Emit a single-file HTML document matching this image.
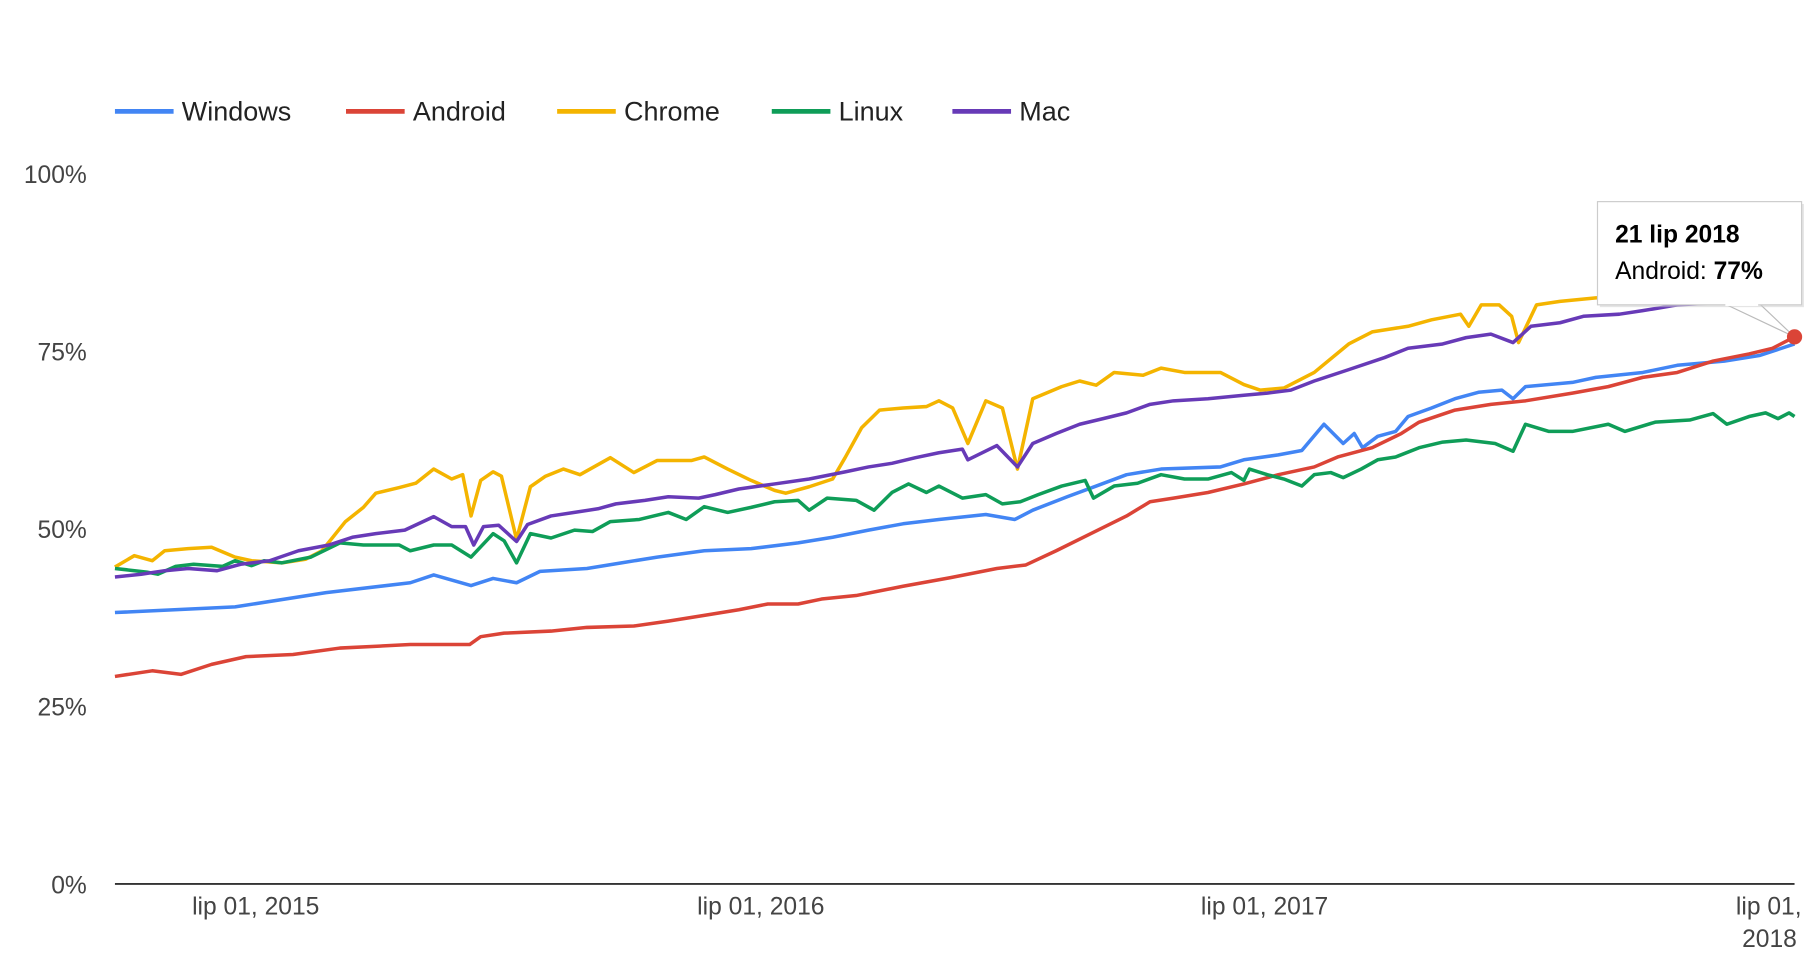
<!DOCTYPE html>
<html><head><meta charset="utf-8"><style>
html,body{margin:0;padding:0;background:#fff;}
svg{display:block;font-family:"Liberation Sans",sans-serif;}
</style></head><body>
<svg id="chart" width="1818" height="966" viewBox="0 0 1550 824" preserveAspectRatio="none" xmlns="http://www.w3.org/2000/svg">
<g id="legend"></g>
<g id="yaxis"></g>
<g id="xaxis"></g>
<g id="series"></g>
<g id="tip"></g>
</svg>
<script>
// days since 2015-03-21
const winDays=[0,87,153,214,231,258,274,291,308,342,367,393,427,461,495,520,546,571,597,631,652,665,690,711,733,758,801,818,843,860,876,890,898,904,915,928,937,954,971,988,1005,1013,1022,1056,1073,1107,1132,1166,1192,1217];
const winVals=[38.2,39,41,42.4,43.5,42,43,42.4,44,44.4,45.2,46,46.9,47.2,48,48.8,49.8,50.7,51.3,52,51.3,52.6,54.5,56,57.6,58.4,58.7,59.7,60.4,61,64.7,62,63.4,61.4,63,63.7,65.8,67,68.3,69.2,69.5,68.3,70,70.6,71.3,72,73,73.6,74.4,76];
const andDays=[0,27,48,70,95,129,163,214,257,265,282,316,342,376,401,427,452,473,495,512,537,571,605,639,660,682,707,733,750,767,792,818,843,869,886,911,932,945,971,997,1022,1056,1082,1107,1132,1158,1184,1201,1217];
const andVals=[29.2,30,29.5,30.9,32,32.3,33.2,33.7,33.7,34.8,35.3,35.6,36.1,36.3,37,37.8,38.6,39.4,39.4,40.1,40.6,41.9,43.1,44.4,44.9,46.9,49.3,51.8,53.8,54.3,55.1,56.3,57.6,58.7,60.1,61.4,63.4,65,66.7,67.5,68,69.1,70,71.3,72,73.6,74.6,75.4,77];
const chrDays=[0,14,27,36,53,70,87,99,121,138,150,167,180,189,206,218,231,244,252,258,265,274,280,291,301,312,325,337,359,376,393,418,427,444,461,478,486,503,520,529,541,554,571,588,597,607,618,631,643,654,665,686,699,711,724,745,758,775,801,818,830,847,869,894,911,937,954,975,981,990,1003,1012,1017,1030,1047,1073,1107,1149,1184,1217];
const chrVals=[44.6,46.2,45.5,46.9,47.2,47.4,46,45.5,45.2,45.7,46.9,51,53,55,55.8,56.4,58.4,57,57.6,51.8,56.8,58,57.4,48.5,55.9,57.4,58.4,57.6,60,57.9,59.6,59.6,60.1,58.4,56.8,55.4,55,55.9,57,60,64.2,66.7,67,67.2,68,67,62,68,67,58.4,68.3,70,70.8,70.2,72,71.6,72.6,72,72,70.3,69.5,69.8,72,76,77.7,78.5,79.4,80.2,78.5,81.5,81.5,79.9,76.2,81.5,82,82.5,82.8,83,83.3,83.5];
const linDays=[0,23,31,44,57,78,87,99,108,121,142,163,180,206,214,231,244,258,274,282,291,301,316,333,346,359,380,401,414,427,444,461,478,495,503,516,537,550,563,575,588,597,614,631,643,656,669,686,703,709,724,741,758,775,792,809,818,822,835,847,860,869,881,890,903,915,928,945,962,979,1000,1013,1022,1039,1056,1082,1094,1116,1141,1158,1168,1184,1196,1205,1213,1217];
const linVals=[44.4,43.9,43.6,44.7,45,44.7,45.5,44.8,45.5,45.2,46,48,47.7,47.7,46.9,47.7,47.7,46,49.3,48.3,45.2,49.3,48.7,49.8,49.6,51,51.3,52.3,51.3,53.1,52.3,53,53.8,54,52.6,54.3,54,52.6,55.1,56.3,55.1,56,54.3,54.8,53.5,53.8,54.8,56,56.8,54.3,56,56.4,57.6,57,57,57.9,56.8,58.4,57.6,57,56,57.6,57.9,57.2,58.4,59.7,60.1,61.4,62.2,62.5,62,60.9,64.7,63.7,63.7,64.7,63.7,65,65.3,66.2,64.7,65.8,66.3,65.5,66.3,65.8];
const macDays=[0,19,36,53,74,91,112,133,155,172,189,210,231,244,254,260,267,278,291,299,316,333,350,363,384,401,423,435,452,478,503,529,546,563,580,597,614,618,639,654,665,682,699,716,733,750,767,792,818,835,852,869,894,920,937,962,979,997,1013,1026,1047,1064,1090,1107,1132,1158,1184,1217];
const macVals=[43.2,43.6,44.1,44.4,44.1,45,45.5,46.9,47.7,48.8,49.3,49.8,51.7,50.3,50.3,47.7,50.3,50.5,48.2,50.6,51.8,52.3,52.8,53.5,54,54.5,54.3,54.8,55.6,56.3,57,58,58.7,59.2,60,60.7,61.2,59.7,61.7,58.7,62,63.4,64.7,65.5,66.3,67.5,68,68.3,68.8,69.1,69.5,70.8,72.4,74.1,75.4,76,76.9,77.4,76.2,78.5,79,79.9,80.2,80.7,81.5,81.8,82,82.5];
const yTicks=[0,25,50,75,100];
const yTickLabels=["0%","25%","50%","75%","100%"];
const xTickDays=[102,468,833,1198];
const xTickLabels=["lip 01, 2015","lip 01, 2016","lip 01, 2017","lip 01, 2018"];
const seriesNames=["Windows","Android","Chrome","Linux","Mac"];
const tipDate="21 lip 2018", tipSeries="Android", tipValue=77, tipDay=1217;

const NS="http://www.w3.org/2000/svg";
const X0=98,X1=1530,Y0=754,Y100=148,DMAX=1217;
const xs=d=>X0+d/DMAX*(X1-X0);
const ys=v=>Y0-v/100*(Y0-Y100);
function mk(tag,attrs,parent){const e=document.createElementNS(NS,tag);for(const k in attrs)e.setAttribute(k,attrs[k]);parent.appendChild(e);return e;}
const colors=["#4285F4","#DB4437","#F4B400","#0F9D58","#673AB7"];
const allDays=[winDays,andDays,chrDays,linDays,macDays];
const allVals=[winVals,andVals,chrVals,linVals,macVals];

// legend
const lg=document.getElementById('legend');
const legX=[98,295,475,658,812];
seriesNames.forEach((n,i)=>{
  const g=mk('g',{},lg);
  
  
  mk('line',{x1:legX[i],x2:legX[i]+50,y1:95,y2:95,stroke:colors[i],'stroke-width':4},g);
  const t=mk('text',{x:legX[i]+57,y:103,'font-size':23,fill:'#222'},g);t.textContent=n;
});
// y axis
const ya=document.getElementById('yaxis');
yTicks.forEach((v,i)=>{
  const t=mk('text',{x:74,y:ys(v)+8,'text-anchor':'end','font-size':21,fill:'#444'},ya);
  
  
  t.textContent=yTickLabels[i];
});
// x axis
const xa=document.getElementById('xaxis');
const base=mk('line',{x1:X0,x2:X1,y1:Y0,y2:Y0,stroke:'#333','stroke-width':1.5},xa);


xTickDays.forEach((d,i)=>{
  const x=xs(d);
  const t=mk('text',{x:x,y:780,'text-anchor':'middle','font-size':21,fill:'#444'},xa);
  
  
  if(x+65>1550){
    const p=xTickLabels[i].split(' ');
    t.setAttribute('text-anchor','end');t.setAttribute('x',1536);
    const s1=mk('tspan',{x:1536,y:780},t);s1.textContent=p[0]+' '+p[1];
    const s2=mk('tspan',{x:1532,y:808},t);s2.textContent=p[2];
  } else t.textContent=xTickLabels[i];
});
// series
const sg=document.getElementById('series');
allDays.forEach((days,i)=>{
  const pts=days.map((d,j)=>xs(d).toFixed(1)+','+ys(allVals[i][j]).toFixed(1)).join(' ');
  const pl=mk('polyline',{points:pts,fill:'none',stroke:colors[i],'stroke-width':3,'stroke-linejoin':'round'},sg);
  
  
});
// tooltip
const tg=document.getElementById('tip');
const px=xs(tipDay),py=ys(tipValue);
mk('polygon',{points:`1470,259 1500,259 ${px},${py}`,fill:'#fff',stroke:'#bbb','stroke-width':1},tg);
mk('rect',{x:1364,y:174,width:174,height:88,fill:'#ccc',opacity:0.5},tg);
const box=mk('rect',{x:1362,y:172,width:174,height:88,fill:'#fff',stroke:'#ccc','stroke-width':1},tg);


mk('rect',{x:1471,y:255,width:28,height:6,fill:'#fff'},tg);
const t1=mk('text',{x:1377,y:207,'font-size':21,'font-weight':'bold',fill:'#000'},tg);t1.textContent=tipDate;
const t2=mk('text',{x:1377,y:238,'font-size':21,fill:'#000'},tg);
const a=mk('tspan',{},t2);a.textContent=tipSeries+': ';
const b=mk('tspan',{'font-weight':'bold'},t2);b.textContent=tipValue+'%';
const dot=mk('circle',{cx:px,cy:py,r:6.5,fill:'#DB4437'},tg);


</script>
</body></html>
